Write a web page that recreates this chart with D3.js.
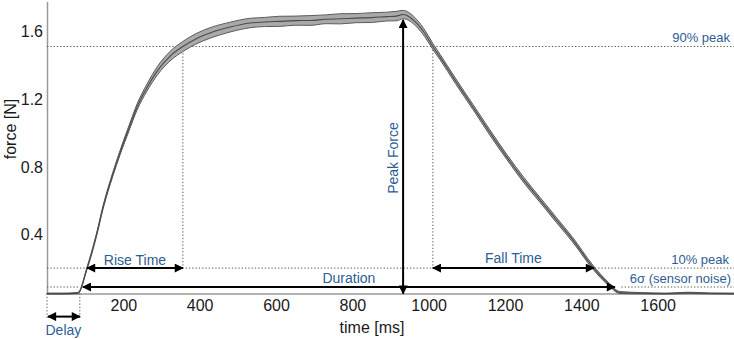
<!DOCTYPE html>
<html>
<head>
<meta charset="utf-8">
<script src="https://cdn.jsdelivr.net/npm/d3@7"></script>
<style>
  body { margin: 0; background: #fff; }
  svg text { font-family: "Liberation Sans", Arial, sans-serif; }
  .tick text { font-size: 16px; fill: #1a1a1a; }
  .note { fill: #2d5d94; }
</style>
</head>
<body>
<div id="chart"></div>
<script>
const width = 734;
const height = 339;

// mean force trace
const timeMs = [0, 40, 81, 105, 130, 147, 173, 191, 215, 236, 262, 290, 322, 356, 390, 427, 480, 532,
  570, 610, 650, 690, 730, 770, 810, 850, 890, 915, 933, 950, 969, 990, 1011, 1030, 1070, 1116, 1160,
  1205, 1250, 1292, 1335, 1378, 1430, 1470, 1501, 1560, 1620, 1680, 1740, 1800];
const meanForce = [0.05, 0.05, 0.053, 0.201, 0.40, 0.562, 0.76, 0.882, 1.03, 1.155, 1.27, 1.372, 1.455,
  1.513, 1.558, 1.593, 1.628, 1.652, 1.658, 1.662, 1.666, 1.667, 1.674, 1.677, 1.681, 1.684, 1.690, 1.693,
  1.702, 1.688, 1.65, 1.59, 1.513, 1.45, 1.31, 1.155, 1.005, 0.858, 0.72, 0.604, 0.485, 0.367, 0.207,
  0.11, 0.056, 0.052, 0.05, 0.054, 0.051, 0.05];
const sdForce = [0.003, 0.003, 0.004, 0.007, 0.009, 0.01, 0.012, 0.013, 0.016, 0.018, 0.021, 0.025, 0.028,
  0.03, 0.031, 0.031, 0.029, 0.028, 0.027, 0.03, 0.027, 0.029, 0.026, 0.03, 0.027, 0.029, 0.026, 0.028,
  0.025, 0.023, 0.022, 0.02, 0.018, 0.016, 0.016, 0.015, 0.016, 0.015, 0.016, 0.015, 0.015, 0.014, 0.012,
  0.009, 0.006, 0.004, 0.003, 0.004, 0.003, 0.003];

const xTicks = [200, 400, 600, 800, 1000, 1200, 1400, 1600];
const yTicks = [0.4, 0.8, 1.2, 1.6];

// measured landmarks
const peakTime = 933;
const peakForce = 1.70;
const level90 = 1.513;
const level10 = 0.201;
const noiseLevel = 0.089;
const onsetTime = 86;
const riseStart = 105;
const riseEnd = 356;
const fallStart = 1011;
const fallEnd = 1433;
const durStart = 94;
const durEnd = 1488;

const x = d3.scaleLinear().domain([0, 1800]).range([47, 734]);
const y = d3.scaleLinear().domain([0.05, 1.78]).range([293.6, 1.4]);

const svg = d3.select('#chart').append('svg')
  .attr('width', width)
  .attr('height', height);

const defs = svg.append('defs');
defs.append('marker')
  .attr('id', 'head')
  .attr('viewBox', '0 0 10 10')
  .attr('refX', 9)
  .attr('refY', 5)
  .attr('markerWidth', 10)
  .attr('markerHeight', 9)
  .attr('markerUnits', 'userSpaceOnUse')
  .attr('orient', 'auto-start-reverse')
  .append('path')
  .attr('d', 'M0,0 L10,5 L0,10 z')
  .attr('fill', '#000');

const trace = timeMs.map((t, i) => ({ t: t, m: meanForce[i], s: sdForce[i] }));

// axes (no tick marks, grey domain lines)
svg.append('g')
  .attr('transform', `translate(0,${y(0.05)})`)
  .call(d3.axisBottom(x).tickValues(xTicks).tickSize(0).tickSizeOuter(0).tickPadding(6).tickFormat(d3.format('d')));
svg.append('g')
  .attr('transform', `translate(${x(0)},0)`)
  .call(d3.axisLeft(y).tickValues(yTicks).tickSize(0).tickSizeOuter(0).tickPadding(4).tickFormat(d3.format('.1f')));
svg.selectAll('.domain').attr('stroke', '#9a9a9a').attr('stroke-width', 1.5);

svg.append('text')
  .attr('transform', `translate(16,129) rotate(-90)`)
  .attr('text-anchor', 'middle')
  .style('font-size', '16px')
  .attr('fill', '#1a1a1a')
  .text('force [N]');

svg.append('text')
  .attr('x', 372)
  .attr('y', 333)
  .attr('text-anchor', 'middle')
  .style('font-size', '16px')
  .attr('fill', '#1a1a1a')
  .text('time [ms]');

// dotted guides
const guides = svg.append('g')
  .attr('stroke', '#555')
  .attr('stroke-width', 1)
  .attr('stroke-dasharray', '1.3,2');

function dotted(x1, y1, x2, y2) {
  guides.append('line').attr('x1', x1).attr('y1', y1).attr('x2', x2).attr('y2', y2);
}

dotted(x(0), y(level90), x(1800), y(level90));
dotted(x(0), y(level10), x(1800), y(level10));
dotted(x(0), y(noiseLevel), x(onsetTime), y(noiseLevel));
dotted(x(1505), y(noiseLevel), x(1800), y(noiseLevel));
dotted(x(riseEnd), y(level90), x(riseEnd), y(level10));
dotted(x(fallStart), y(level90), x(fallStart), y(level10));
dotted(x(0), y(0.05), x(0), y(0.05) + 26);
dotted(x(onsetTime), y(0.05), x(onsetTime), y(0.05) + 26);

// mean +/- sd band
const band = d3.area()
  .x(d => x(d.t))
  .y0(d => y(d.m - d.s))
  .y1(d => y(d.m + d.s))
  .curve(d3.curveMonotoneX);

svg.append('path')
  .datum(trace)
  .attr('d', band)
  .attr('fill', '#a9a9a9')
  .attr('stroke', '#5c5c5c')
  .attr('stroke-width', 1);

svg.append('path')
  .datum(trace)
  .attr('d', d3.line().x(d => x(d.t)).y(d => y(d.m)).curve(d3.curveMonotoneX))
  .attr('fill', 'none')
  .attr('stroke', '#4a4a4a')
  .attr('stroke-width', 1.1);

// arrows
function arrow(x1, y1, x2, y2) {
  svg.append('line')
    .attr('x1', x1).attr('y1', y1)
    .attr('x2', x2).attr('y2', y2)
    .attr('stroke', '#000')
    .attr('stroke-width', 2)
    .attr('marker-start', 'url(#head)')
    .attr('marker-end', 'url(#head)');
}

arrow(x(riseStart), y(level10), x(riseEnd), y(level10));
arrow(x(fallStart), y(level10), x(fallEnd), y(level10));
arrow(x(durStart), y(noiseLevel), x(durEnd), y(noiseLevel));
arrow(x(peakTime), y(0.05), x(peakTime), y(peakForce) + 5);
arrow(x(0) + 1, y(0.05) + 23, x(onsetTime), y(0.05) + 23);

// labels
function note(text, px, py, anchor, size) {
  return svg.append('text')
    .attr('class', 'note')
    .attr('x', px)
    .attr('y', py)
    .attr('text-anchor', anchor)
    .style('font-size', size + 'px')
    .text(text);
}

note('Rise Time', (x(riseStart) + x(riseEnd)) / 2, y(level10) - 3, 'middle', 14);
note('Fall Time', (x(fallStart) + x(fallEnd)) / 2, y(level10) - 5, 'middle', 14);
note('Duration', (x(durStart) + x(durEnd)) / 2, y(noiseLevel) - 4, 'middle', 14);
note('Delay', (x(0) + x(onsetTime)) / 2, y(0.05) + 41, 'middle', 14);
note('90% peak', 730, y(level90) - 4, 'end', 13);
note('10% peak', 729, y(level10) - 4, 'end', 13);
note('6σ (sensor noise)', 731, y(noiseLevel) - 4, 'end', 13);

svg.append('text')
  .attr('class', 'note')
  .attr('transform', `translate(${x(peakTime) - 5},158) rotate(-90)`)
  .attr('text-anchor', 'middle')
  .style('font-size', '14px')
  .text('Peak Force');
</script>
</body>
</html>
